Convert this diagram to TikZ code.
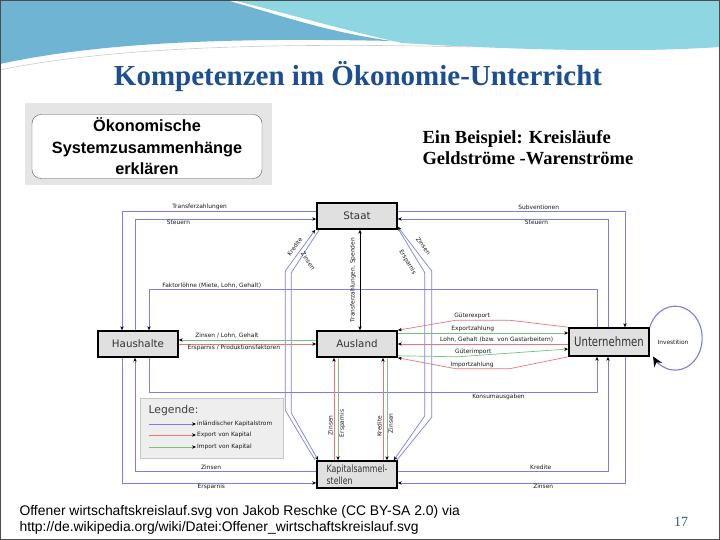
\documentclass[tikz,border=0pt]{standalone}
\usepackage{fontspec}
\setmainfont{Liberation Serif}
\newfontfamily\dejavu{DejaVu Sans}
\newfontfamily\dejavunarrow[FakeStretch=0.78]{DejaVu Sans}
\newfontfamily\arial{Liberation Sans}
\usepackage{tikz}
\usetikzlibrary{arrows.meta,positioning}
\usepackage{xcolor}
\definecolor{kblue}{RGB}{125,125,228}
\definecolor{kred}{RGB}{236,118,118}
\definecolor{kgreen}{RGB}{118,196,118}
\definecolor{boxgray}{RGB}{224,224,224}
\definecolor{titleblue}{RGB}{28,78,145}
\definecolor{wavebl}{RGB}{112,180,212}
\definecolor{wavetl}{RGB}{142,214,226}
\definecolor{pagenum}{RGB}{40,95,125}
\tikzstyle{sektor} = [rectangle, minimum width=80pt, minimum height=26pt, draw=black, line width=1.6pt, fill=boxgray, text=black!80, font=\dejavu\fontsize{10.3}{12}\selectfont]
\tikzstyle{flowlabel} = [font=\dejavu\fontsize{5.9}{7}\selectfont, inner sep=1pt, text=black!90]
\tikzstyle{inland} = [draw=kblue, line width=0.7pt, ->]
\tikzstyle{kapexport} = [draw=kred, line width=0.7pt, ->]
\tikzstyle{kapimport} = [draw=kgreen, line width=0.7pt, ->]
\tikzstyle{zweiweg} = [draw=black, line width=0.5pt, <->]
\tikzstyle{legendbox} = [rectangle, minimum width=143pt, minimum height=60pt, draw=gray!45, fill=gray!13]

\begin{document}
\begin{tikzpicture}[x=1pt, y=1pt, >={Stealth[length=4pt,width=3.4pt,color=black]}]
\useasboundingbox (0,0) rectangle (720,540);
\fill[white] (0,0) rectangle (720,540);

% Kopfleiste
\fill[wavetl] (232,540) -- (720,540) -- (720,493) .. controls (620,486) and (480,492) .. (402,497) .. controls (335,512) and (282,528) .. (232,540) -- cycle;
\fill[wavebl] (0,540) -- (226,540) .. controls (276,526) and (326,508) .. (392,499) .. controls (255,502) and (110,500) .. (0,476) -- cycle;
\draw[gray!40, line width=0.6pt] (0,470) .. controls (120,495) and (300,497) .. (470,493);

% Titel
\node (titel) [text=titleblue, font=\bfseries\fontsize{29}{32}\selectfont] at (358,463) {Kompetenzen im Ökonomie-Unterricht};

% Bild oben links
\fill[gray!20] (25,355) rectangle (272,437);
\node (bild) [rectangle, rounded corners=9pt, draw=gray!70!black, fill=white, minimum width=230pt, minimum height=64pt, align=center, font=\arial\bfseries\fontsize{16.3}{21.5}\selectfont] at (147,393.5) {Ökonomische\\Systemzusammenhänge\\erklären};

% Beispiel
\node (beispiel) [anchor=west, align=left, font=\bfseries\fontsize{18.5}{21.5}\selectfont] at (419,392.5) {Ein Beispiel: Kreisläufe\\Geldströme -Warenströme};

% Sektoren
\node (staat) [sektor] at (357,324) {Staat};
\node (haus) [sektor] at (138,196) {Haushalte};
\node (ausl) [sektor] at (357,196) {Ausland};
\node (untern) [sektor, minimum height=28pt, font=\dejavunarrow\fontsize{13}{14}\selectfont] at (609,198) {Unternehmen};
\node (kap) [sektor, minimum height=27pt, align=left, font=\dejavunarrow\fontsize{10}{12}\selectfont] at (357,65.5) {Kapitalsammel-\\stellen};
\node (invest) [flowlabel] at (673,198) {Investition};

% Staat - Haushalte
\draw[inland] ([yshift=5pt]staat.west) -| node[flowlabel, pos=0.3, above] {Transferzahlungen} ([xshift=-16pt]haus.north);
\draw[inland] ([xshift=-3pt]haus.north) |- node[flowlabel, pos=0.62, below] {Steuern} ([yshift=-3pt]staat.west);

% Staat - Unternehmen
\draw[inland] ([yshift=5pt]staat.east) -| node[flowlabel, pos=0.31, above] {Subventionen} ([xshift=16pt]untern.north);
\draw[inland] ([xshift=-1pt]untern.north) |- node[flowlabel, pos=0.67, below] {Steuern} ([yshift=-3pt]staat.east);

% Unternehmen - Haushalte
\draw[inland] ([xshift=-12pt]untern.north) -- ++(0,38) -| node[flowlabel, pos=0.43, above] {Faktorlöhne (Miete, Lohn, Gehalt)} ([xshift=11pt]haus.north);
\draw[inland] ([xshift=11pt]haus.south) -- ++(0,-35) -| node[flowlabel, pos=0.39, below] {Konsumausgaben} ([xshift=-12pt]untern.south);

% Kapitalsammelstellen
\draw[inland] ([yshift=3.5pt]kap.west) -| node[flowlabel, pos=0.29, above] {Zinsen} ([xshift=-3pt]haus.south);
\draw[inland] ([xshift=-16pt]haus.south) |- node[flowlabel, pos=0.73, below] {Ersparnis} ([yshift=-8.5pt]kap.west);
\draw[inland] ([yshift=3.5pt]kap.east) -| node[flowlabel, pos=0.34, above] {Kredite} ([xshift=-1pt]untern.south);
\draw[inland] ([xshift=16pt]untern.south) |- node[flowlabel, pos=0.68, below] {Zinsen} ([yshift=-8.5pt]kap.east);
\draw[inland] ([xshift=-1pt]kap.north west) -- ++(-30,50) -- ++(0,139) -- node[flowlabel, midway, sloped, above=3pt] {Kredite} ([xshift=-1pt]staat.south west);
\draw[inland] ([xshift=3pt]staat.south west) -- node[flowlabel, pos=0.72, xshift=9pt, rotate=-55] {Zinsen} ++(-28,-43) -- ++(0,-140) -- ([xshift=2pt]kap.north west);
\draw[inland] ([xshift=1pt]staat.south east) -- node[flowlabel, pos=0.64, sloped, below=5pt] {Ersparnis} ++(26,-43) -- ++(0,-143) -- ([xshift=-4pt]kap.north east);
\draw[inland] ([xshift=-1pt]kap.north east) -- ++(35,43) -- ++(0,146) -- node[flowlabel, pos=0.45, sloped, above=5pt] {Zinsen} ([yshift=3pt]staat.south east);

% Staat - Ausland
\draw[zweiweg] ([xshift=3pt]ausl.north) -- node[flowlabel, midway, sloped, above=3pt] {Transferzahlungen, Spenden} ([xshift=3pt]staat.south);

% Haushalte - Ausland
\draw[kapimport] ([yshift=4pt]ausl.west) -- node[flowlabel, pos=0.65, above] {Zinsen / Lohn, Gehalt} ([yshift=4pt]haus.east);
\draw[kapexport] (haus.east) -- node[flowlabel, pos=0.4, below] {Ersparnis / Produktionsfaktoren} (ausl.west);

% Unternehmen - Ausland
\coordinate (expz) at ([yshift=11pt]ausl.east);
\draw[kapexport] (untern.north west) -- ++(-59,7) -- node[flowlabel, pos=0.7, above] {Güterexport} ++(-53,0) -- (ausl.north east);
\draw[kapimport] (expz) -- node[flowlabel, pos=0.44, above] {Exportzahlung} (expz -| untern.west);
\draw[kapexport] (ausl.east -| untern.west) -- node[flowlabel, pos=0.42, above] {Lohn, Gehalt (bzw. von Gastarbeitern)} (ausl.east);
\draw[kapimport] ([yshift=2pt]ausl.south east) -- ++(60,-1) -- node[flowlabel, pos=0.14, above] {Güterimport} ([yshift=-7pt]untern.west);
\draw[kapexport] (untern.south west) -- ++(-59,-12) -- node[flowlabel, pos=0.7, above] {Importzahlung} ++(-53,0) -- (ausl.south east);

% Ausland - Kapitalsammelstellen
\draw[kapexport] ([xshift=-23pt]kap.north) -- node[flowlabel, pos=0.34, sloped, above] {Zinsen} ([xshift=-23pt]ausl.south);
\draw[kapimport] ([xshift=-19pt]ausl.south) -- node[flowlabel, pos=0.64, rotate=90, anchor=north] {Ersparnis} ([xshift=-19pt]kap.north);
\draw[kapexport] ([xshift=26pt]kap.north) -- node[flowlabel, pos=0.33, sloped, above] {Kredite} ([xshift=26pt]ausl.south);
\draw[kapimport] ([xshift=30pt]ausl.south) -- node[flowlabel, pos=0.64, rotate=90, anchor=north] {Zinsen} ([xshift=30pt]kap.north);

% Investition
\draw[draw=kblue, line width=1.1pt, -{Stealth[length=10pt,width=9pt,color=black]}] (untern.north east) arc[start angle=160, end angle=-145, x radius=27, y radius=32];

% Legende
\node (legend) [legendbox] at (211.5,112) {};
\node (legtitel) [anchor=west, text=black!75, font=\dejavu\fontsize{10.8}{12}\selectfont] at (145,129) {Legende:};
\node (leginland) [flowlabel, anchor=west] at (196,116) {inländischer Kapitalstrom};
\node (legexport) [flowlabel, anchor=west] at (196,105) {Export von Kapital};
\node (legimport) [flowlabel, anchor=west] at (196,93) {Import von Kapital};
\draw[inland] ([xshift=-47pt]leginland.west) -- (leginland.west);
\draw[kapexport] ([xshift=-47pt]legexport.west) -- (legexport.west);
\draw[kapimport] ([xshift=-47pt]legimport.west) -- (legimport.west);

% Quelle
\node (quelle) [anchor=west, align=left, font=\arial\fontsize{13.9}{16}\selectfont] at (16,20) {Offener wirtschaftskreislauf.svg von Jakob Reschke (CC BY-SA 2.0) via\\http://de.wikipedia.org/wiki/Datei:Offener\_wirtschaftskreislauf.svg};
\node (seite) [text=pagenum, font=\fontsize{14}{15}\selectfont] at (681,18) {17};

% Rahmen
\draw[black!70, line width=1.2pt] (0.6,0.6) rectangle (719.4,539.4);
\end{tikzpicture}
\end{document}
